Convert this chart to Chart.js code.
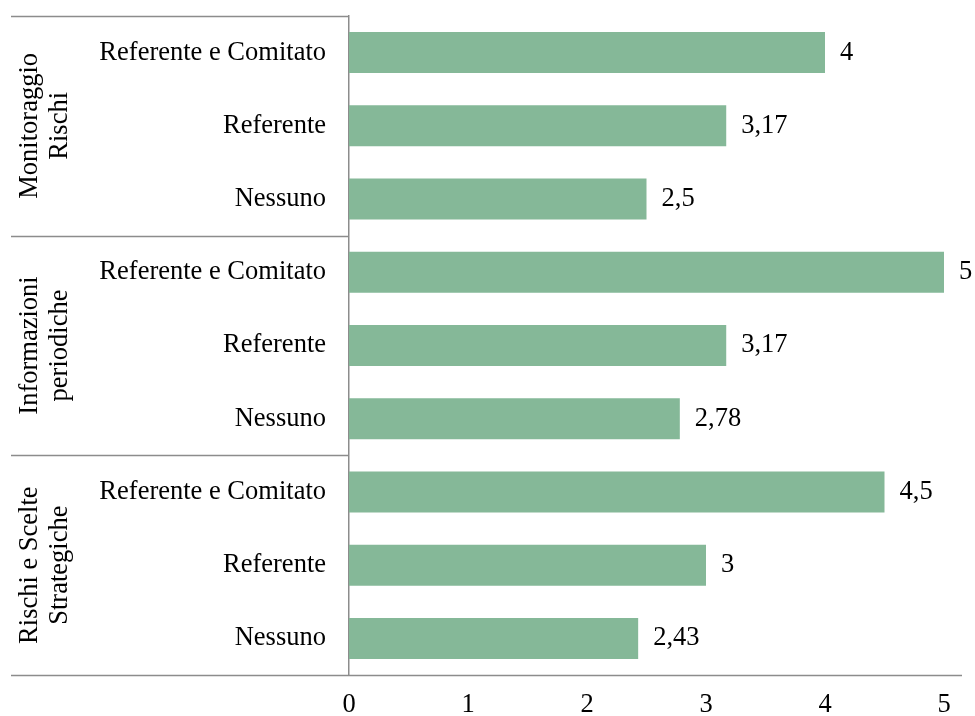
<!DOCTYPE html>
<html>
<head>
<meta charset="utf-8">
<script src="https://cdn.jsdelivr.net/npm/chart.js@4/dist/chart.umd.min.js"></script>
<style>
  html, body { margin: 0; padding: 0; background: #fff; }
  #wrap { width: 975px; height: 716px; position: relative; }
</style>
</head>
<body>
<div id="wrap"><canvas id="chart"></canvas></div>
<script>
// Data (top to bottom)
const groups = [
    ['Monitoraggio', 'Rischi'],
    ['Informazioni', 'periodiche'],
    ['Rischi e Scelte', 'Strategiche'],
];
const subLabels = [
    'Referente e Comitato', 'Referente', 'Nessuno',
    'Referente e Comitato', 'Referente', 'Nessuno',
    'Referente e Comitato', 'Referente', 'Nessuno',
];
const values = [4, 3.17, 2.5, 5, 3.17, 2.78, 4.5, 3, 2.43];
const xTicks = [0, 1, 2, 3, 4, 5];

const FONT = '"Liberation Serif", "Times New Roman", serif';
const FONT_SIZE = 26.5;
const lineColor = '#8c8c8c';

const fmt = v => String(v).replace('.', ',');

// Draws value labels, group separators and rotated group names
const extrasPlugin = {
    id: 'extras',
    afterDraw(chart) {
        const ctx = chart.ctx;
        const area = chart.chartArea;
        const step = (area.bottom - area.top) / subLabels.length;

        ctx.save();
        // value labels
        ctx.font = FONT_SIZE + 'px ' + FONT;
        ctx.fillStyle = '#000';
        ctx.textAlign = 'left';
        ctx.textBaseline = 'middle';
        const meta = chart.getDatasetMeta(0);
        meta.data.forEach((bar, i) => {
            ctx.fillText(fmt(values[i]), bar.x + 15, bar.y);
        });

        // separators
        ctx.strokeStyle = lineColor;
        ctx.lineWidth = 1.5;
        for (let g = 0; g <= groups.length; g++) {
            const y = Math.round(area.top + g * 3 * step) + 0.5;
            ctx.beginPath();
            ctx.moveTo(11, y);
            ctx.lineTo(g === groups.length ? 962 : area.left, y);
            ctx.stroke();
        }

        // group names
        ctx.textAlign = 'center';
        ctx.textBaseline = 'alphabetic';
        groups.forEach((lines, g) => {
            const cy = area.top + (g * 3 + 1.5) * step;
            ctx.save();
            ctx.translate(0, cy);
            ctx.rotate(-Math.PI / 2);
            ctx.fillText(lines[0], 0, 37);
            ctx.fillText(lines[1], 0, 67);
            ctx.restore();
        });
        ctx.restore();
    }
};

new Chart(document.getElementById('chart'), {
    type: 'bar',
    data: {
        labels: subLabels,
        datasets: [{
            data: values,
            backgroundColor: '#85b898',
            borderWidth: 0,
            categoryPercentage: 1,
            barPercentage: 0.56,
        }],
    },
    options: {
        indexAxis: 'y',
        responsive: true,
        maintainAspectRatio: false,
        animation: false,
        layout: { padding: { top: 16, right: 31, left: 0, bottom: 0 } },
        plugins: {
            legend: { display: false },
            tooltip: { enabled: false },
        },
        scales: {
            x: {
                min: 0,
                max: 5,
                afterBuildTicks: s => { s.ticks = xTicks.map(v => ({ value: v })); },
                afterFit: s => { s.height = 41; s.paddingLeft = 0; s.paddingRight = 0; },
                grid: { display: false, drawTicks: false },
                border: { display: false },
                ticks: {
                    color: '#000',
                    padding: 14,
                    font: { family: FONT, size: FONT_SIZE },
                },
            },
            y: {
                afterFit: s => { s.width = 349; s.paddingTop = 0; s.paddingBottom = 0; },
                grid: { display: false, drawTicks: false },
                border: { display: true, color: lineColor, width: 1.5 },
                ticks: {
                    color: '#000',
                    padding: 23,
                    font: { family: FONT, size: FONT_SIZE },
                },
            },
        },
    },
    plugins: [extrasPlugin],
});
</script>
</body>
</html>
